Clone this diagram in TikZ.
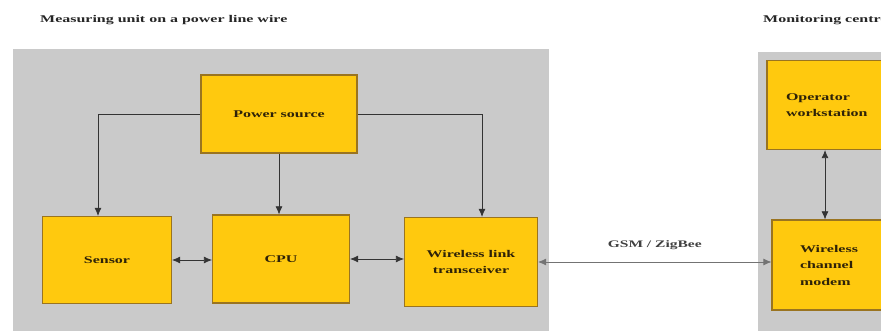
\documentclass[tikz,border=0pt]{standalone}
\usepackage{fontspec}
\setmainfont{Liberation Serif}[FakeStretch=1.55]
\usetikzlibrary{arrows.meta}
\definecolor{panel}{HTML}{CACACA}
\definecolor{boxfill}{HTML}{FFC90E}
\definecolor{boxline}{HTML}{9A7420}
\definecolor{txt}{HTML}{2E2208}
\tikzset{
  blk/.style={draw=boxline, fill=boxfill, line width=1.2pt, font=\bfseries\fontsize{10.3}{16.5}\selectfont, text=txt, align=center, inner sep=0pt},
  title/.style={font=\bfseries\fontsize{10.3}{12}\selectfont, text=black!85, anchor=west, inner sep=0pt},
  arr/.style={draw=black!80, line width=0.7pt, -{Latex[length=8pt,width=7pt]}},
  dbl/.style={draw=black!80, line width=0.7pt, {Latex[length=8pt,width=7pt]}-{Latex[length=8pt,width=7pt]}},
}
\begin{document}
\begin{tikzpicture}[x=1pt,y=-1pt]
\clip (0,0) rectangle (881,331);
\fill[white] (0,0) rectangle (881,331);
% panels
\fill[panel] (13,49) rectangle (549,340);
\fill[panel] (758,52) rectangle (890,340);
% titles
\node[title] (t1) at (40,20) {Measuring unit on a power line wire};
\node[title] (t2) at (763,20) {Monitoring centre};
% boxes
\node[blk, minimum width=156, minimum height=78] (ps) at (279,114) {Power source};
\node[blk, minimum width=129, minimum height=87] (sen) at (107,260) {Sensor};
\node[blk, minimum width=137, minimum height=88] (cpu) at (281,259) {CPU};
\node[blk, minimum width=133, minimum height=89] (wl) at (471,262) {Wireless link\\transceiver};
\node[blk, minimum width=124, minimum height=89, text width=86, align=left] (op) at (829,105) {Operator\\workstation};
\node[blk, minimum width=120, minimum height=90, text width=64, align=left] (mod) at (832,265) {Wireless\\channel\\modem};
% connectors
\coordinate (vx) at (825,0);
\draw[arr] (ps.west) -| ([xshift=-9pt]sen.north);
\draw[arr] (ps.east) -| ([xshift=11pt]wl.north);
\draw[arr] (ps.south) -- (ps.south |- cpu.north);
\draw[dbl] (sen.east) -- (sen.east -| cpu.west);
\draw[dbl] (cpu.east) -- (cpu.east -| wl.west);
\draw[dbl, draw=black!55] (wl.east) -- (wl.east -| mod.west) node[midway, above=9pt, font=\bfseries\fontsize{10}{12}\selectfont, text=black!75] {GSM / ZigBee};
\draw[dbl] (op.south -| vx) -- (mod.north -| vx);
\end{tikzpicture}
\end{document}
